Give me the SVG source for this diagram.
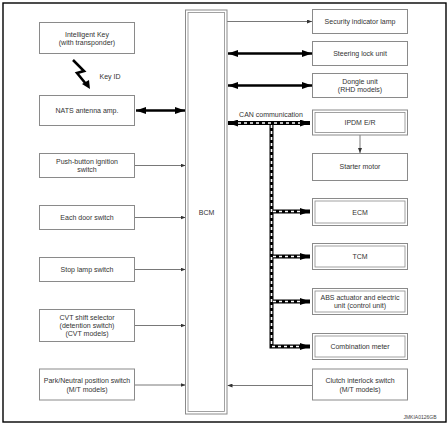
<svg xmlns="http://www.w3.org/2000/svg" width="448" height="426" viewBox="0 0 448 426">
<defs>
<style>
.box{fill:#fff;stroke:#8a8a8a;stroke-width:1}
.in{fill:none;stroke:#8a8a8a;stroke-width:0.8}
text{font-family:"Liberation Sans",Arial,sans-serif;font-size:7px;fill:#333;text-anchor:middle}
.thin{stroke:#555;stroke-width:0.8;fill:none}
.thick{stroke:#000;stroke-width:2.6;fill:none}
.canb{stroke:#000;stroke-width:4;fill:none}
.canw{stroke:#fff;stroke-width:1.6;fill:none;stroke-dasharray:3 3}
</style>
<marker id="a" markerUnits="userSpaceOnUse" markerWidth="5" markerHeight="4" refX="5" refY="2" orient="auto-start-reverse"><path d="M0,0 L5,2 L0,4 z" fill="#333"/></marker>
<marker id="t" markerUnits="userSpaceOnUse" markerWidth="10" markerHeight="7" refX="10" refY="3.5" orient="auto-start-reverse"><path d="M0,0 L10,3.5 L0,7 z" fill="#000"/></marker>
</defs>
<rect x="3" y="3" width="443" height="419" fill="#fff" stroke="#000" stroke-width="1.4"/>

<g id="connectors">
<polyline class="thin" points="134.7,165.5 185.5,165.5" marker-end="url(#a)"/>
<polyline class="thin" points="134.7,217.5 185.5,217.5" marker-end="url(#a)"/>
<polyline class="thin" points="134.7,269.5 185.5,269.5" marker-end="url(#a)"/>
<polyline class="thin" points="134.7,325.5 185.5,325.5" marker-end="url(#a)"/>
<polyline class="thin" points="134.7,385 185.5,385" marker-end="url(#a)"/>
<polyline class="thick" points="136,110.5 185,110.5" marker-start="url(#t)" marker-end="url(#t)"/>
<polyline class="thin" points="227,21.5 312,21.5" marker-end="url(#a)"/>
<polyline class="thick" points="228,53.5 312,53.5" marker-start="url(#t)" marker-end="url(#t)"/>
<polyline class="thick" points="228,85.5 312,85.5" marker-start="url(#t)" marker-end="url(#t)"/>
<polyline class="thin" points="360,135 360,153" marker-end="url(#a)"/>
<polyline class="thin" points="312.5,385.5 227.5,385.5" marker-end="url(#a)"/>
<polyline points="73,60 84,71 77,73 86,84" fill="none" stroke="#000" stroke-width="2.6" stroke-linejoin="miter"/>
<path d="M82,84 L90,89 L89,80 z" fill="#000"/>
<text x="110" y="79">Key ID</text>
<g id="can">
<polyline class="canb" points="228,123 310,123" marker-start="url(#t)" marker-end="url(#t)"/>
<polyline class="canb" points="271.5,123 271.5,346.5 310,346.5" marker-end="url(#t)"/>
<polyline class="canb" points="271.5,211.5 310,211.5" marker-end="url(#t)"/>
<polyline class="canb" points="271.5,256.5 310,256.5" marker-end="url(#t)"/>
<polyline class="canb" points="271.5,301.5 310,301.5" marker-end="url(#t)"/>
<polyline class="canw" points="238,123 300,123"/>
<polyline class="canw" points="271.5,125 271.5,346.5 300,346.5"/>
<polyline class="canw" points="273,211.5 300,211.5"/>
<polyline class="canw" points="273,256.5 300,256.5"/>
<polyline class="canw" points="273,301.5 300,301.5"/>
</g>
<text x="271" y="117">CAN communication</text>
</g>

<g id="bcm">
<rect class="box" x="185.5" y="10" width="41.5" height="404"/>
<rect class="in" x="188" y="12.5" width="36.5" height="399"/>
<text x="206.5" y="215">BCM</text>
</g>

<g id="intelligent-key"><rect class="box" x="39.5" y="22.5" width="95" height="31"/><text x="87" y="36.8">Intelligent Key</text><text x="87" y="45.2">(with transponder)</text></g>
<g id="nats"><rect class="box" x="39.5" y="95.5" width="95" height="30"/><text x="87" y="113">NATS antenna amp.</text></g>
<g id="push"><rect class="box" x="39.5" y="153.5" width="95" height="24"/><text x="87" y="164">Push-button ignition</text><text x="87" y="172">switch</text></g>
<g id="door"><rect class="box" x="39.5" y="205.5" width="95" height="24"/><text x="87" y="220">Each door switch</text></g>
<g id="stop"><rect class="box" x="39.5" y="257.5" width="95" height="24"/><text x="87" y="272">Stop lamp switch</text></g>
<g id="cvt"><rect class="box" x="39.5" y="309.5" width="95" height="32"/><text x="87" y="319.8">CVT shift selector</text><text x="87" y="327.8">(detention switch)</text><text x="87" y="336.2">(CVT models)</text></g>
<g id="park"><rect class="box" x="39.5" y="369" width="95" height="31"/><text x="87" y="383.2">Park/Neutral position switch</text><text x="87" y="391.6">(M/T models)</text></g>

<g id="security"><rect class="box" x="312.5" y="9.5" width="95" height="24"/><text x="360" y="24">Security indicator lamp</text></g>
<g id="steering"><rect class="box" x="312.5" y="41.5" width="95" height="24"/><text x="360" y="56">Steering lock unit</text></g>
<g id="dongle"><rect class="box" x="312.5" y="73.5" width="95" height="24"/><text x="360" y="83.6">Dongle unit</text><text x="360" y="92">(RHD models)</text></g>
<g id="ipdm"><rect class="box" x="312.5" y="110" width="95" height="25"/><rect class="in" x="315" y="112.5" width="90" height="20"/><text x="360" y="124.5">IPDM E/R</text></g>
<g id="starter"><rect class="box" x="312.5" y="153.5" width="95" height="27"/><text x="360" y="169.3">Starter motor</text></g>
<g id="ecm"><rect class="box" x="312.5" y="198.5" width="95" height="27"/><rect class="in" x="315" y="201" width="90" height="22"/><text x="360" y="214.5">ECM</text></g>
<g id="tcm"><rect class="box" x="312.5" y="243.5" width="95" height="26"/><rect class="in" x="315" y="246" width="90" height="21"/><text x="360" y="259">TCM</text></g>
<g id="abs"><rect class="box" x="312.5" y="288.5" width="95" height="26"/><rect class="in" x="315" y="291" width="90" height="21"/><text x="360" y="299.8">ABS actuator and electric</text><text x="360" y="308.2">unit (control unit)</text></g>
<g id="combination"><rect class="box" x="312.5" y="333.5" width="95" height="26"/><rect class="in" x="315" y="336" width="90" height="21"/><text x="360" y="349">Combination meter</text></g>
<g id="clutch"><rect class="box" x="312.5" y="369" width="95" height="31"/><text x="360" y="383.2">Clutch interlock switch</text><text x="360" y="391.6">(M/T models)</text></g>

<text x="420" y="419" style="font-size:5px;fill:#444">JMKIA0126GB</text>
</svg>
